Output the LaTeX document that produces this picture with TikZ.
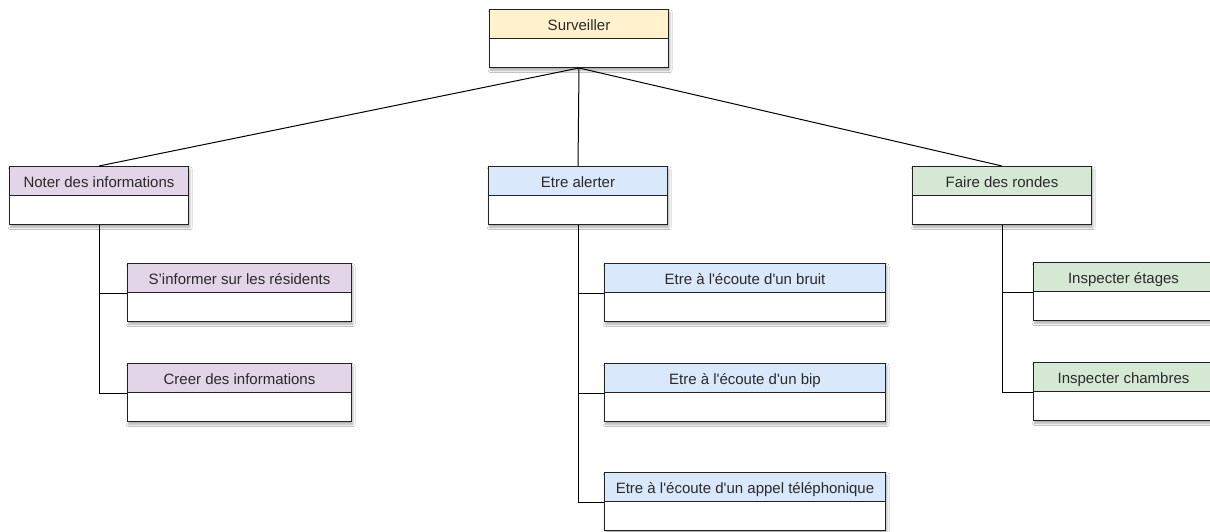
\documentclass[tikz,border=0pt]{standalone}
\usepackage{fontspec}
\setmainfont{Liberation Sans}
\usetikzlibrary{shadows.blur}
\definecolor{cyellow}{HTML}{FFF2CC}
\definecolor{cpurple}{HTML}{E1D5E7}
\definecolor{cblue}{HTML}{DAE8FC}
\definecolor{cgreen}{HTML}{D5E8D4}
\definecolor{cline}{HTML}{222222}
\definecolor{ctext}{HTML}{2A2A2A}
\tikzset{
  shbox/.style={fill=white, anchor=north west, inner sep=0pt, minimum height=58pt,
    blur shadow={shadow xshift=1.5pt, shadow yshift=-3pt, shadow blur radius=2.5pt, shadow opacity=35}},
  hdr/.style={draw=cline, line width=1pt, anchor=north west, inner sep=0pt, minimum height=29pt,
    font=\fontsize{15}{17}\selectfont, text=ctext, text height=13pt, text depth=0pt},
  bdy/.style={draw=cline, line width=1pt, fill=white, anchor=north west, inner sep=0pt, minimum height=29pt},
  conn/.style={draw=black, line width=1pt}
}
\newcommand\classbox[6]{%
  \node[shbox, minimum width=#4pt] (#1-s) at (#2,#3) {};
  \node[bdy, minimum width=#4pt] (#1-b) at (#2,#3+29) {};
  \node[hdr, minimum width=#4pt, fill=#5] (#1) at (#2,#3) {#6};
}
\newcommand\sq{\textquotesingle}
\begin{document}
\begin{tikzpicture}[x=1pt,y=-1pt]
\useasboundingbox (0,0) rectangle (1210,532);
\clip (0,0) rectangle (1210,532);
\fill[white] (0,0) rectangle (1210,532);
\classbox{surv}{489}{9}{179}{cyellow}{Surveiller}
\classbox{noter}{9}{166}{179}{cpurple}{Noter des informations}
\classbox{alert}{488}{166}{179}{cblue}{Etre alerter}
\classbox{faire}{912}{166}{179}{cgreen}{Faire des rondes}
\classbox{sinf}{127}{263}{224}{cpurple}{S’informer sur les résidents}
\classbox{creer}{127}{363}{224}{cpurple}{Creer des informations}
\classbox{bruit}{604}{263}{281}{cblue}{Etre à l\sq écoute d\sq un bruit}
\classbox{bip}{604}{363}{281}{cblue}{Etre à l\sq écoute d\sq un bip}
\classbox{appel}{604}{472}{281}{cblue}{Etre à l\sq écoute d\sq un appel téléphonique}
\classbox{etag}{1033}{262}{180}{cgreen}{Inspecter étages}
\classbox{chamb}{1033}{362}{180}{cgreen}{Inspecter chambres}
\draw[conn] (surv-b.south) -- (noter.north);
\draw[conn] (surv-b.south) -- (alert.north);
\draw[conn] (surv-b.south) -- (faire.north);
\draw[conn] (noter-b.south) |- (creer.south west);
\draw[conn] (noter-b.south |- sinf.south west) -- (sinf.south west);
\draw[conn] (alert-b.south) |- (appel.south west);
\draw[conn] (alert-b.south |- bruit.south west) -- (bruit.south west);
\draw[conn] (alert-b.south |- bip.south west) -- (bip.south west);
\draw[conn] (faire-b.south) |- (chamb.south west);
\draw[conn] (faire-b.south |- etag.south west) -- (etag.south west);
\end{tikzpicture}
\end{document}
